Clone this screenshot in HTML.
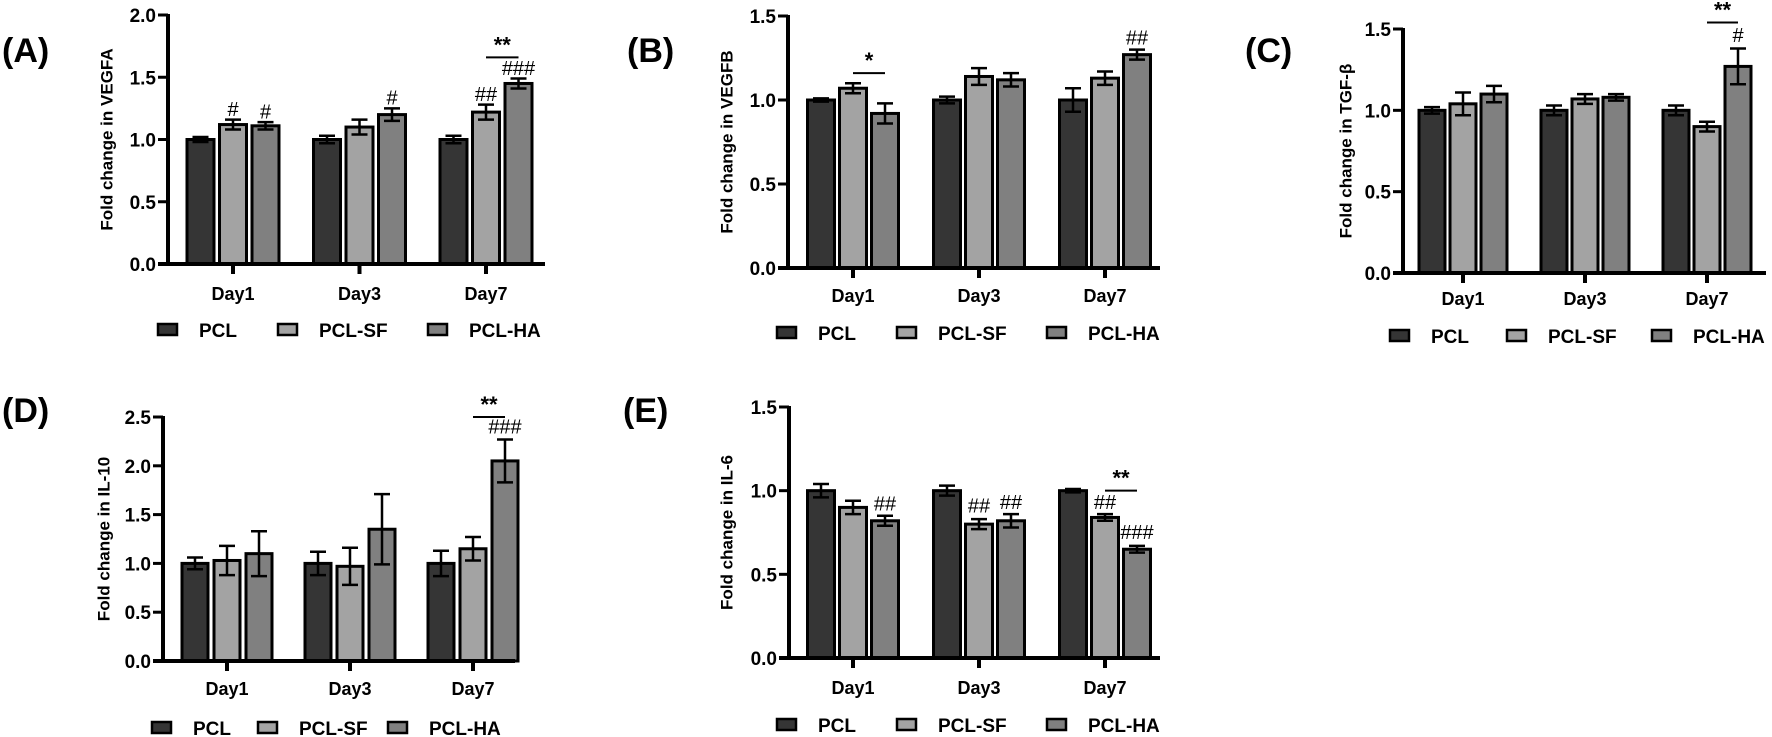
<!DOCTYPE html>
<html>
<head>
<meta charset="utf-8">
<style>
html,body{margin:0;padding:0;background:#fff;}
svg{display:block;font-family:"Liberation Sans",Arial,sans-serif;}
</style>
</head>
<body>
<svg id="fig" width="1772" height="737" viewBox="0 0 1772 737" xmlns="http://www.w3.org/2000/svg"></svg>
<script>
const days = ["Day1","Day3","Day7"];
const seriesNames = ["PCL","PCL-SF","PCL-HA"];

// Panel A - VEGFA
const vegfaPCL = [1.00,1.00,1.00];
const vegfaSF  = [1.12,1.10,1.22];
const vegfaHA  = [1.11,1.20,1.45];
const vegfaPCLerr = [0.02,0.03,0.03];
const vegfaSFerr  = [0.04,0.06,0.06];
const vegfaHAerr  = [0.03,0.05,0.04];
const vegfaTicks = ["0.0","0.5","1.0","1.5","2.0"];

// Panel B - VEGFB
const vegfbPCL = [1.00,1.00,1.00];
const vegfbSF  = [1.07,1.14,1.13];
const vegfbHA  = [0.92,1.12,1.27];
const vegfbPCLerr = [0.01,0.02,0.07];
const vegfbSFerr  = [0.03,0.05,0.04];
const vegfbHAerr  = [0.06,0.04,0.03];
const vegfbTicks = ["0.0","0.5","1.0","1.5"];

// Panel C - TGF-beta
const tgfPCL = [1.00,1.00,1.00];
const tgfSF  = [1.04,1.07,0.90];
const tgfHA  = [1.10,1.08,1.27];
const tgfPCLerr = [0.02,0.03,0.03];
const tgfSFerr  = [0.07,0.03,0.03];
const tgfHAerr  = [0.05,0.02,0.11];
const tgfTicks = ["0.0","0.5","1.0","1.5"];

// Panel D - IL-10
const il10PCL = [1.00,1.00,1.00];
const il10SF  = [1.03,0.97,1.15];
const il10HA  = [1.10,1.35,2.05];
const il10PCLerr = [0.06,0.12,0.13];
const il10SFerr  = [0.15,0.19,0.12];
const il10HAerr  = [0.23,0.36,0.22];
const il10Ticks = ["0.0","0.5","1.0","1.5","2.0","2.5"];

// Panel E - IL-6
const il6PCL = [1.00,1.00,1.00];
const il6SF  = [0.90,0.80,0.84];
const il6HA  = [0.82,0.82,0.65];
const il6PCLerr = [0.04,0.03,0.01];
const il6SFerr  = [0.04,0.03,0.02];
const il6HAerr  = [0.03,0.04,0.02];
const il6Ticks = ["0.0","0.5","1.0","1.5"];

// annotations: [dayIndex, seriesIndex, text, value]
const vegfaMarks = [[0,1,"#",1.19],[0,2,"#",1.17],[1,2,"#",1.28],[2,1,"##",1.31],[2,2,"###",1.52]];
const vegfbMarks = [[2,2,"##",1.33]];
const tgfMarks = [[2,2,"#",1.42]];
const il10Marks = [[2,2,"###",2.33]];
const il6Marks = [[0,2,"##",0.88],[1,1,"##",0.87],[1,2,"##",0.89],[2,1,"##",0.89],[2,2,"###",0.71]];
// significance bars: [dayIndex, lineValue, text]
const vegfaSig = [[2,1.66,"**"]];
const vegfbSig = [[0,1.16,"*"]];
const tgfSig = [[2,1.54,"**"]];
const il10Sig = [[2,2.5,"**"]];
const il6Sig = [[2,1.0,"**"]];

const fills = ["#353535","#a3a3a3","#808080"];
const svg = document.getElementById('fig');
const NS = "http://www.w3.org/2000/svg";
function mk(tag, attrs, parent){
  const e = document.createElementNS(NS, tag);
  for (const k in attrs) e.setAttribute(k, attrs[k]);
  (parent||svg).appendChild(e);
  return e;
}

const panels = [
 {id:"a",letter:"(A)",lx:2,ly:62,title:"Fold change in VEGFA",tx:108,ax:168,y0:264,yTop:15,max:2.0,d1:233,step:126.5,off:32.5,bw:27,xEnd:545,labY:300,legY:330,legX:[158,278,428],
  vals:[vegfaPCL,vegfaSF,vegfaHA],errs:[vegfaPCLerr,vegfaSFerr,vegfaHAerr],ticks:vegfaTicks,marks:vegfaMarks,sig:vegfaSig},
 {id:"b",letter:"(B)",lx:627,ly:62,title:"Fold change in VEGFB",tx:728,ax:788,y0:268,yTop:16,max:1.5,d1:853,step:126,off:32,bw:27,xEnd:1160,labY:302,legY:333,legX:[777,897,1047],
  vals:[vegfbPCL,vegfbSF,vegfbHA],errs:[vegfbPCLerr,vegfbSFerr,vegfbHAerr],ticks:vegfbTicks,marks:vegfbMarks,sig:vegfbSig},
 {id:"c",letter:"(C)",lx:1245,ly:62,title:"Fold change in TGF-β",tx:1347,ax:1403,y0:273,yTop:29,max:1.5,d1:1463,step:122,off:31,bw:26,xEnd:1766,labY:305,legY:336,legX:[1390,1507,1652],
  vals:[tgfPCL,tgfSF,tgfHA],errs:[tgfPCLerr,tgfSFerr,tgfHAerr],ticks:tgfTicks,marks:tgfMarks,sig:tgfSig},
 {id:"d",letter:"(D)",lx:2,ly:422,title:"Fold change in IL-10",tx:105,ax:163,y0:661,yTop:417,max:2.5,d1:227,step:123,off:32,bw:26,xEnd:515,labY:695,legY:728,legX:[152,258,388],
  vals:[il10PCL,il10SF,il10HA],errs:[il10PCLerr,il10SFerr,il10HAerr],ticks:il10Ticks,marks:il10Marks,sig:il10Sig},
 {id:"e",letter:"(E)",lx:623,ly:422,title:"Fold change in IL-6",tx:728,ax:789,y0:658,yTop:407,max:1.5,d1:853,step:126,off:32,bw:27,xEnd:1160,labY:694,legY:725,legX:[777,897,1047],
  vals:[il6PCL,il6SF,il6HA],errs:[il6PCLerr,il6SFerr,il6HAerr],ticks:il6Ticks,marks:il6Marks,sig:il6Sig}
];

panels.forEach(p=>{
  const g = mk('g',{});
  
  
  const y = v => p.y0 - (v/p.max)*(p.y0-p.yTop);
  const xc = (d,s) => p.d1 + d*p.step + (s-1)*p.off;

  const lab = mk('text',{x:p.lx,y:p.ly,'font-size':34,'font-weight':'bold',fill:'#000'},g);
  lab.textContent = p.letter;
  
  

  const yt = mk('text',{x:p.tx,y:(p.y0+p.yTop)/2,'font-size':17,'font-weight':'bold','text-anchor':'middle','dominant-baseline':'middle',transform:`rotate(-90 ${p.tx} ${(p.y0+p.yTop)/2})`},g);
  yt.textContent = p.title;
  
  

  p.vals.forEach((arr,s)=>{
    arr.forEach((v,d)=>{
      const cx = xc(d,s);
      const r = mk('rect',{x:cx-p.bw/2,y:y(v),width:p.bw,height:p.y0-y(v),fill:fills[s],stroke:'#000','stroke-width':3},g);
      
      
      const e = p.errs[s][d];
      const eb = mk('path',{d:`M${cx},${y(v+e)}V${y(v-e)}M${cx-8},${y(v+e)}H${cx+8}M${cx-8},${y(v-e)}H${cx+8}`,stroke:'#000','stroke-width':2.5,fill:'none'},g);
      
      
    });
  });

  const ya = mk('path',{d:`M${p.ax},${p.yTop-1}V${p.y0+2}`,stroke:'#000','stroke-width':4,fill:'none'},g);
  
  
  const xa = mk('path',{d:`M${p.ax-10},${p.y0}H${p.xEnd}`,stroke:'#000','stroke-width':4,fill:'none'},g);
  
  

  p.ticks.forEach((t,i)=>{
    const v = parseFloat(t);
    const ty = y(v);
    mk('path',{d:`M${p.ax-10},${ty}H${p.ax}`,stroke:'#000','stroke-width':3},g);
    const tl = mk('text',{x:p.ax-12,y:ty+7,'font-size':19,'font-weight':'bold','text-anchor':'end'},g);
    tl.textContent = t;
    
    
  });
  days.forEach((dname,d)=>{
    const cx = xc(d,1);
    mk('path',{d:`M${cx},${p.y0}V${p.y0+10}`,stroke:'#000','stroke-width':4},g);
    const dl = mk('text',{x:cx,y:p.labY,'font-size':18,'font-weight':'bold','text-anchor':'middle'},g);
    dl.textContent = dname;
    
    
  });

  p.marks.forEach(m=>{
    const t = mk('text',{x:xc(m[0],m[1]),y:y(m[3]),'font-size':20,'text-anchor':'middle',fill:'#000'},g);
    t.textContent = m[2];
    
    
  });
  p.sig.forEach(sg=>{
    const x1 = xc(sg[0],1), x2 = xc(sg[0],2);
    const ln = mk('path',{d:`M${x1},${y(sg[1])}H${x2}`,stroke:'#000','stroke-width':2},g);
    
    
    const st = mk('text',{x:(x1+x2)/2,y:y(sg[1])-5,'font-size':22,'font-weight':'bold','text-anchor':'middle'},g);
    st.textContent = sg[2];
    
    
  });

  seriesNames.forEach((n,s)=>{
    const lx = p.legX[s];
    const sq = mk('rect',{x:lx,y:p.legY-6,width:19,height:11,fill:fills[s],stroke:'#000','stroke-width':2.5},g);
    
    
    const lt = mk('text',{x:lx+41,y:p.legY+7,'font-size':19,'font-weight':'bold'},g);
    lt.textContent = n;
    
    
  });
});
</script>
</body>
</html>
